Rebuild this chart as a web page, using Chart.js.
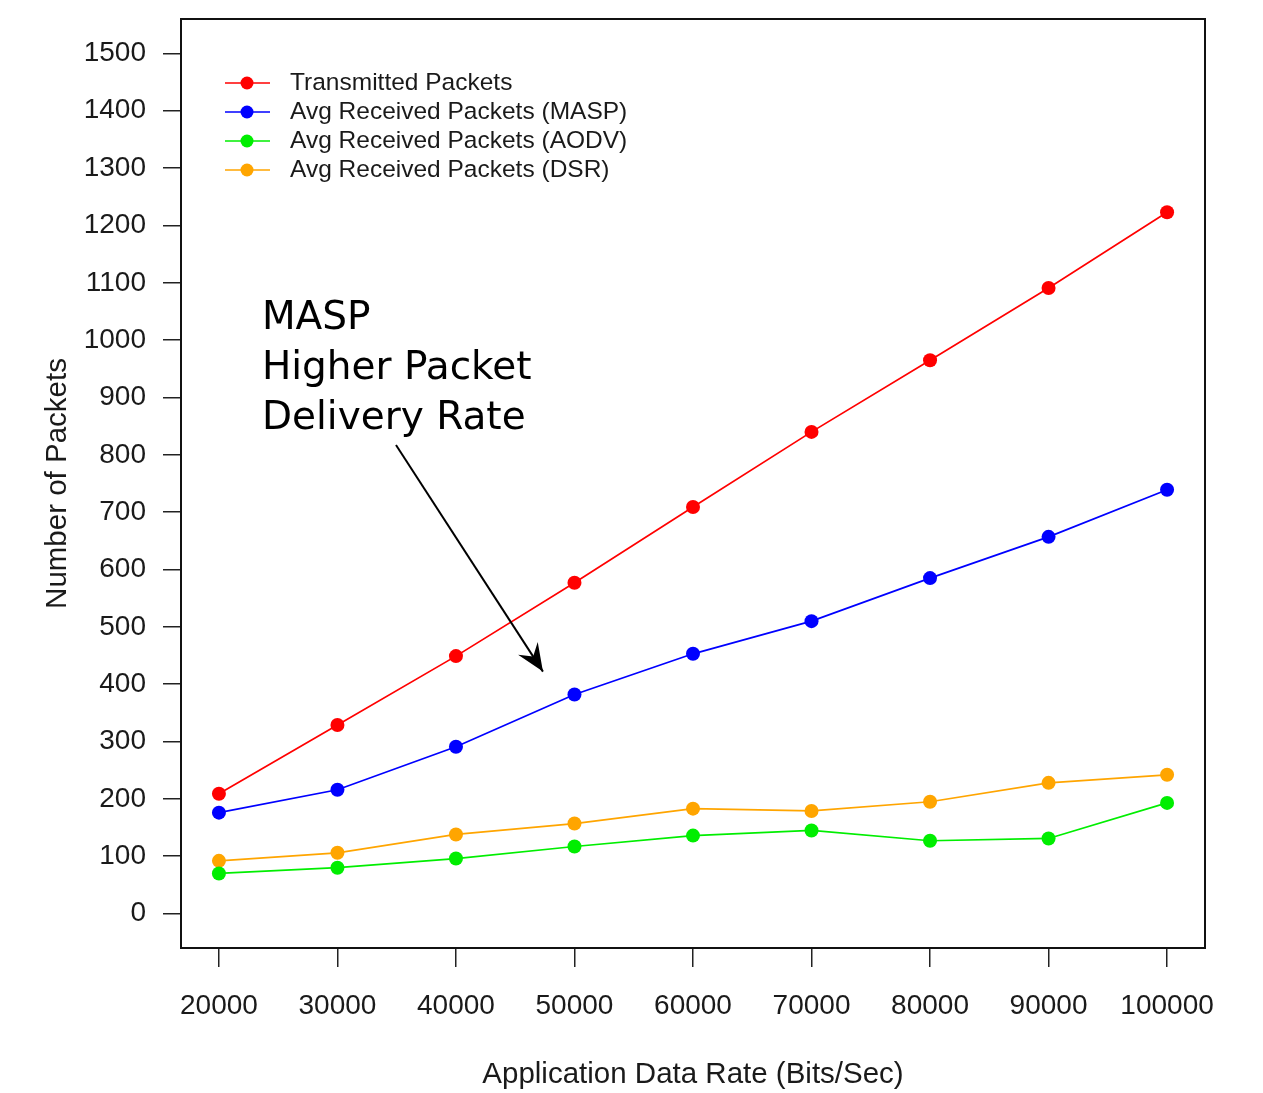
<!DOCTYPE html>
<html>
<head>
<meta charset="utf-8">
<script src="https://cdn.jsdelivr.net/npm/chart.js@4/dist/chart.umd.min.js"></script>
<style>
  html, body { margin: 0; padding: 0; background: #ffffff; }
  #wrap { width: 1263px; height: 1093px; }
</style>
</head>
<body>
<div id="wrap"><canvas id="c" width="1263" height="1093"></canvas></div>
<script>
// ---- Data ----
const dataRates = [20000, 30000, 40000, 50000, 60000, 70000, 80000, 90000, 100000];
const transmitted = [209, 329, 449, 577, 709, 840, 965, 1091, 1223];
const receivedMASP = [176, 216, 291, 382, 453, 510, 585, 657, 739];
const receivedAODV = [70, 80, 96, 117, 136, 145, 127, 131, 193];
const receivedDSR = [92, 106, 138, 157, 183, 179, 195, 228, 242];
const seriesLabels = ["Transmitted Packets", "Avg Received Packets (MASP)", "Avg Received Packets (AODV)", "Avg Received Packets (DSR)"];
const xTickValues = [20000, 30000, 40000, 50000, 60000, 70000, 80000, 90000, 100000];
const yTickValues = [0, 100, 200, 300, 400, 500, 600, 700, 800, 900, 1000, 1100, 1200, 1300, 1400, 1500];
const xTitle = "Application Data Rate (Bits/Sec)";
const yTitle = "Number of Packets";
const noteLines = ["MASP", "Higher Packet", "Delivery Rate"];
// annotation anchor points in data units
const noteTextAt = { x: 23630, y: 1019 };
const arrowFrom = { x: 34940, y: 817 };
const arrowTo = { x: 47340, y: 422 };

const colors = ["#ff0000", "#0000ff", "#00ee00", "#ffa500"];
const seriesValues = [transmitted, receivedMASP, receivedAODV, receivedDSR];

const FONT = '"Liberation Sans", Arial, Helvetica, sans-serif';
const TEXT = '#1a1a1a';

const datasets = seriesValues.map((vals, i) => ({
  label: seriesLabels[i],
  data: dataRates.map((x, j) => ({ x: x, y: vals[j] })),
  borderColor: colors[i],
  backgroundColor: colors[i],
  pointBackgroundColor: colors[i],
  pointBorderColor: colors[i],
  pointRadius: 7,
  pointBorderWidth: 0,
  borderWidth: 1.7,
  tension: 0,
  fill: false
}));

const framePlugin = {
  id: 'frame',
  afterDraw(chart) {
    const ctx = chart.ctx;
    const a = chart.chartArea;
    ctx.save();
    ctx.strokeStyle = '#111';
    ctx.lineWidth = 2;
    ctx.strokeRect(a.left, a.top, a.right - a.left, a.bottom - a.top);

    // legend (no box)
    const lx = a.left + 44, rowY0 = a.top + 64, rowH = 29;
    chart.data.datasets.forEach((ds, i) => {
      const y = rowY0 + i * rowH;
      ctx.strokeStyle = ds.borderColor;
      ctx.lineWidth = 1.7;
      ctx.beginPath();
      ctx.moveTo(lx, y); ctx.lineTo(lx + 45, y); ctx.stroke();
      ctx.fillStyle = ds.borderColor;
      ctx.beginPath();
      ctx.arc(lx + 22, y, 6.5, 0, Math.PI * 2); ctx.fill();
      ctx.fillStyle = TEXT;
      ctx.font = '24.5px ' + FONT;
      ctx.textBaseline = 'middle';
      ctx.textAlign = 'left';
      ctx.fillText(ds.label, lx + 65, y);
    });

    // annotation
    const xs = chart.scales.x, ys = chart.scales.y;
    const tx = xs.getPixelForValue(noteTextAt.x), ty = ys.getPixelForValue(noteTextAt.y);
    ctx.fillStyle = '#000';
    ctx.font = '39px "DejaVu Sans", Verdana, sans-serif';
    ctx.textBaseline = 'alphabetic';
    noteLines.forEach((t, i) => ctx.fillText(t, tx, ty + i * 50));

    const x1 = xs.getPixelForValue(arrowFrom.x), y1 = ys.getPixelForValue(arrowFrom.y);
    const x2 = xs.getPixelForValue(arrowTo.x), y2 = ys.getPixelForValue(arrowTo.y);
    ctx.strokeStyle = '#000';
    ctx.lineWidth = 2;
    ctx.beginPath(); ctx.moveTo(x1, y1); ctx.lineTo(x2, y2); ctx.stroke();
    const ang = Math.atan2(y2 - y1, x2 - x1);
    const hl = 30, hw = 0.4;
    ctx.beginPath();
    ctx.moveTo(x2, y2);
    ctx.lineTo(x2 - hl * Math.cos(ang - hw), y2 - hl * Math.sin(ang - hw));
    ctx.lineTo(x2 - hl * 0.6 * Math.cos(ang), y2 - hl * 0.6 * Math.sin(ang));
    ctx.lineTo(x2 - hl * Math.cos(ang + hw), y2 - hl * Math.sin(ang + hw));
    ctx.closePath();
    ctx.fillStyle = '#000';
    ctx.fill();
    ctx.restore();
  }
};

new Chart(document.getElementById('c'), {
  type: 'line',
  data: { datasets: datasets },
  options: {
    responsive: false,
    animation: false,
    layout: { padding: { top: 19, right: 58, left: 0, bottom: 0 } },
    plugins: { legend: { display: false }, tooltip: { enabled: false } },
    scales: {
      x: {
        type: 'linear',
        min: 16800,
        max: 103200,
        afterBuildTicks: (s) => { s.ticks = xTickValues.map(v => ({ value: v })); },
        afterFit: (s) => { s.height = 145; s.paddingLeft = 0; s.paddingRight = 0; },
        ticks: {
          font: { family: FONT, size: 28 },
          color: TEXT,
          padding: 22,
          maxRotation: 0,
          autoSkip: false,
          callback: (v) => String(v)
        },
        grid: { drawOnChartArea: false, drawTicks: true, tickLength: 19, color: '#222', lineWidth: 1.5 },
        border: { display: false },
        title: { display: true, text: xTitle, color: TEXT, font: { family: FONT, size: 29.5, lineHeight: 1.2 }, padding: { top: 0, bottom: 0 } }
      },
      y: {
        min: -60,
        max: 1560,
        afterBuildTicks: (s) => { s.ticks = yTickValues.map(v => ({ value: v })); },
        afterFit: (s) => { s.width = 181; s.paddingTop = 0; s.paddingBottom = 0; },
        ticks: {
          font: { family: FONT, size: 28 },
          color: TEXT,
          padding: 17,
          autoSkip: false,
          callback: (v) => String(v)
        },
        grid: { drawOnChartArea: false, drawTicks: true, tickLength: 18, color: '#222', lineWidth: 1.5 },
        border: { display: false },
        title: { display: true, text: yTitle, color: TEXT, font: { family: FONT, size: 29.5, lineHeight: 1.2 }, padding: { top: 40, bottom: 0 } }
      }
    }
  },
  plugins: [framePlugin]
});
</script>
</body>
</html>
